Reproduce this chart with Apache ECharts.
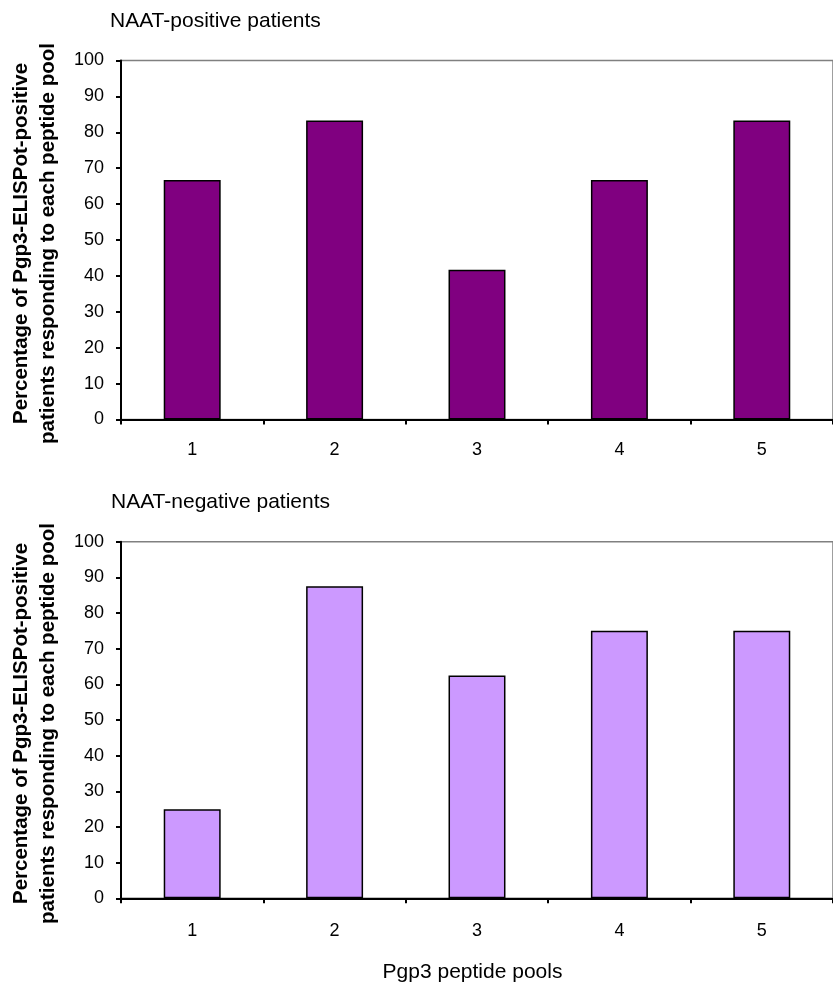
<!DOCTYPE html>
<html>
<head>
<meta charset="utf-8">
<script src="https://cdn.jsdelivr.net/npm/echarts@6/dist/echarts.min.js"></script>
<style>html,body{margin:0;padding:0;background:#fff}#c{width:833px;height:985px}</style>
</head>
<body>
<div id="c"></div>
<script>
const categories = ['1', '2', '3', '4', '5'];
const positiveValues = [66.7, 83.3, 41.7, 66.7, 83.3];
const negativeValues = [25, 87.5, 62.5, 75, 75];
const yTicks = [0, 10, 20, 30, 40, 50, 60, 70, 80, 90, 100];
const topTitle = 'NAAT-positive patients';
const bottomTitle = 'NAAT-negative patients';
const yName = 'Percentage of Pgp3-ELISPot-positive\npatients responding to each peptide pool';
const xName = 'Pgp3 peptide pools';

const FONT = '"Liberation Sans", Arial, sans-serif';
const chart = echarts.init(document.getElementById('c'));

function xAxisFor(gi, margin, name) {
  return {
    gridIndex: gi, type: 'category', data: categories,
    axisLine: { lineStyle: { color: '#000', width: 2 } },
    axisTick: { show: true, alignWithLabel: false, inside: false, length: 5, lineStyle: { color: '#000', width: 2 } },
    axisLabel: { color: '#000', fontSize: 18, fontFamily: FONT, margin: margin },
    name: name || '', nameLocation: 'middle', nameGap: 63,
    nameTextStyle: { color: '#000', fontSize: 21, fontFamily: FONT, padding: [0, 9, 0, 0] }
  };
}
function yAxisFor(gi) {
  return {
    gridIndex: gi, type: 'value', min: yTicks[0], max: yTicks[yTicks.length - 1], interval: 10,
    axisLine: { show: true, lineStyle: { color: '#000', width: 2 } },
    axisTick: { show: true, length: 5, lineStyle: { color: '#000', width: 2 } },
    axisLabel: { color: '#000', fontSize: 18, fontFamily: FONT, margin: 17 },
    splitLine: { show: false },
    name: yName, nameLocation: 'middle', nameRotate: 90, nameGap: 59,
    nameTextStyle: { color: '#000', fontSize: 20.5, fontWeight: 'bold', fontFamily: FONT, lineHeight: 27, align: 'center', padding: [0, 7, 0, 0] }
  };
}

chart.setOption({
  animation: false,
  title: [
    { text: topTitle, left: 110, top: 11, padding: 0, textStyle: { color: '#000', fontSize: 21, fontWeight: 'normal', fontFamily: FONT } },
    { text: bottomTitle, left: 111, top: 492, padding: 0, textStyle: { color: '#000', fontSize: 21, fontWeight: 'normal', fontFamily: FONT } }
  ],
  grid: [
    { left: 118, top: 60.5, height: 359, right: -8, show: true, borderColor: '#808080', borderWidth: 1.5, backgroundColor: 'transparent' },
    { left: 118, top: 541.7, height: 356.6, right: -8, show: true, borderColor: '#808080', borderWidth: 1.5, backgroundColor: 'transparent' }
  ],
  xAxis: [xAxisFor(0, 22), xAxisFor(1, 24, xName)],
  yAxis: [yAxisFor(0), yAxisFor(1)],
  series: [
    { type: 'bar', xAxisIndex: 0, yAxisIndex: 0, data: positiveValues, barWidth: '40%',
      itemStyle: { color: '#800080', borderColor: '#000', borderWidth: 1.5 } },
    { type: 'bar', xAxisIndex: 1, yAxisIndex: 1, data: negativeValues, barWidth: '40%',
      itemStyle: { color: '#CC99FF', borderColor: '#000', borderWidth: 1.5 } }
  ]
});
</script>
</body>
</html>
